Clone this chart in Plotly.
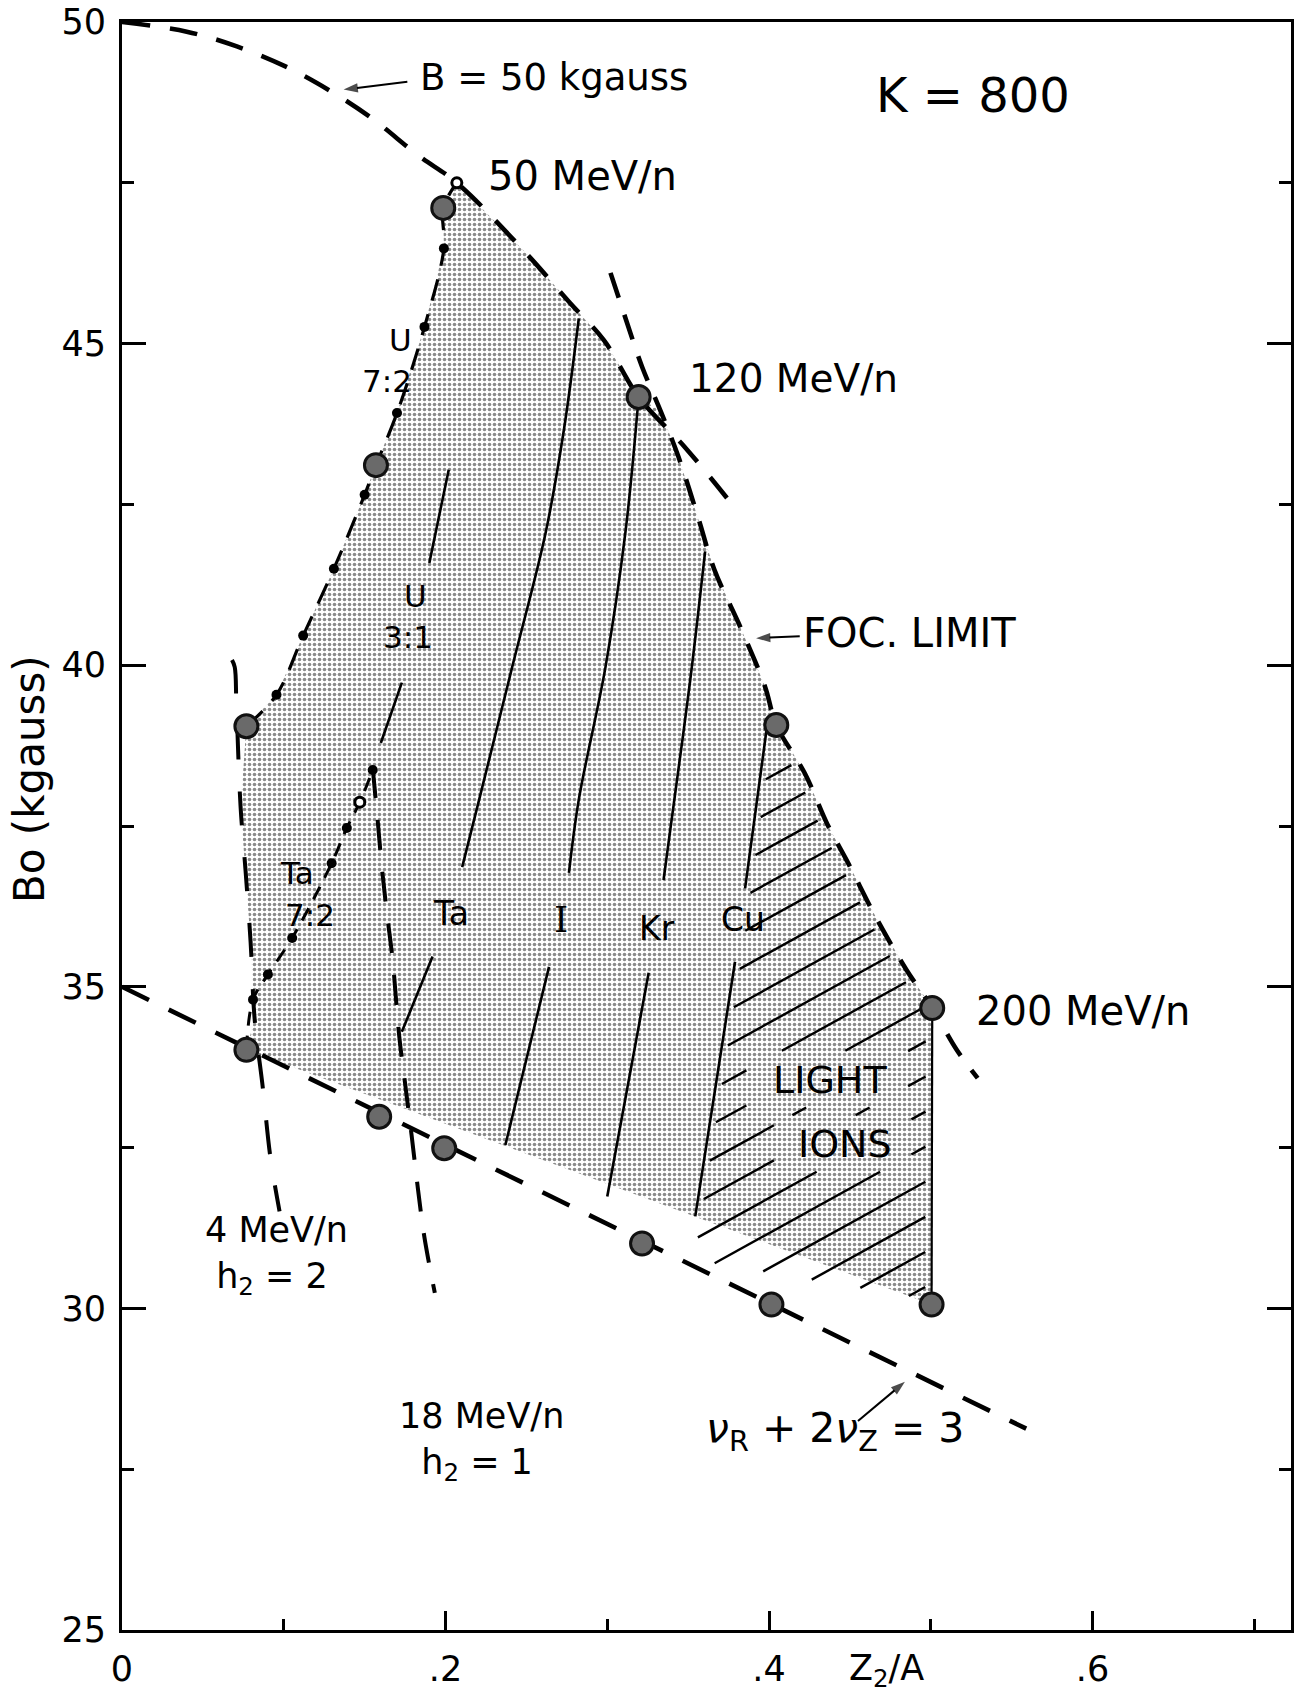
import numpy as np
import plotly.graph_objects as go

# ---------------- data ----------------
# B = 50 kgauss limit (dashed)
b50_x = [0.000, 0.040, 0.071, 0.101, 0.128, 0.153, 0.184, 0.207, 0.250, 0.277, 0.298, 0.3194, 0.348, 0.374]
b50_y = [50.00, 49.85, 49.62, 49.31, 48.94, 48.53, 47.91, 47.50, 46.40, 45.63, 45.05, 44.17, 43.39, 42.60]

# focusing limit (dashed)
foc_x = [0.302, 0.312, 0.3215, 0.333, 0.344, 0.356, 0.366, 0.383, 0.3975, 0.4045, 0.4221, 0.4362, 0.449, 0.4665, 0.4848, 0.5009, 0.516, 0.529]
foc_y = [46.10, 45.34, 44.64, 43.95, 43.24, 42.31, 41.50, 40.55, 39.67, 39.07, 38.32, 37.52, 36.92, 36.06, 35.27, 34.67, 34.02, 33.58]

# nu_R + 2 nu_Z = 3 resonance (dashed)
res_x = [0.000, 0.559]
res_y = [35.00, 28.13]

# 4 MeV/n, h2 = 2 (dashed)
e4_x = [0.0680, 0.0697, 0.0707, 0.0733, 0.0764, 0.0795, 0.0820, 0.0871, 0.0918, 0.0974]
e4_y = [40.08, 39.97, 39.41, 37.80, 36.80, 35.70, 34.50, 33.42, 32.34, 31.51]

# 18 MeV/n, h2 = 1 (dashed)
e18_x = [0.1550, 0.1580, 0.1610, 0.1640, 0.1673, 0.1714, 0.1750, 0.1790, 0.1830, 0.1870, 0.1934]
e18_y = [38.40, 37.60, 36.77, 36.10, 35.42, 34.23, 33.50, 32.70, 31.85, 31.10, 30.24]

# U 7:2 curve (dash + dots)
u72_x = [0.0769, 0.0955, 0.112, 0.131, 0.150, 0.157, 0.170, 0.187, 0.199, 0.1986, 0.207]
u72_y = [39.05, 39.54, 40.46, 41.50, 42.65, 43.11, 43.92, 45.26, 46.48, 47.11, 47.50]
u72_dot_x = [0.0955, 0.112, 0.131, 0.150, 0.170, 0.187, 0.199]
u72_dot_y = [39.54, 40.46, 41.50, 42.65, 43.92, 45.26, 46.48]

# Ta 7:2 curve (dash + dots)
ta72_x = [0.0769, 0.0810, 0.0902, 0.1052, 0.1296, 0.1390, 0.1470, 0.1550]
ta72_y = [34.02, 34.80, 35.19, 35.76, 36.92, 37.47, 37.87, 38.37]
ta72_dot_x = [0.0810, 0.0902, 0.1052, 0.1296, 0.1390, 0.1550]
ta72_dot_y = [34.80, 35.19, 35.76, 36.92, 37.47, 38.37]

# small ring markers
ring_x = [0.207, 0.147]
ring_y = [47.50, 37.87]

# large corner points
pt_x = [0.1986, 0.3194, 0.157, 0.0769, 0.4045, 0.5009, 0.0769, 0.159, 0.1992, 0.3215, 0.4015, 0.5005]
pt_y = [47.11, 44.17, 43.11, 39.05, 39.07, 34.67, 34.02, 32.98, 32.49, 31.01, 30.06, 30.06]

# ion lines (upper and lower pieces, split by the labels)
u31_up_x = [0.202, 0.190];  u31_up_y = [43.04, 41.59]
u31_lo_x = [0.173, 0.160];  u31_lo_y = [39.73, 38.79]
ta_up_x = [0.2824, 0.2732, 0.2619, 0.2412, 0.2208, 0.2103]
ta_up_y = [45.39, 43.66, 42.06, 39.97, 37.91, 36.86]
ta_lo_x = [0.192, 0.173];   ta_lo_y = [35.47, 34.30]
i_up_x = [0.3194, 0.3112, 0.2989, 0.2824, 0.2763]
i_up_y = [44.17, 42.06, 39.97, 37.91, 36.77]
i_lo_x = [0.264, 0.237];    i_lo_y = [35.31, 32.54]
kr_up_x = [0.3605, 0.3513, 0.3398, 0.3348]
kr_up_y = [41.77, 39.77, 37.60, 36.66]
kr_lo_x = [0.3256, 0.300];  kr_lo_y = [35.22, 31.74]
cu_up_x = [0.3985, 0.3852]; cu_up_y = [39.00, 36.53]
cu_lo_x = [0.379, 0.3544];  cu_lo_y = [35.39, 31.43]

# axis ticks
x_tickvals = [0, 0.2, 0.4, 0.6]
x_ticktext = ["0", ".2", ".4", ".6"]
x_minor = [0.1, 0.3, 0.5, 0.7]
y_tickvals = [25, 30, 35, 40, 45, 50]
y_minor = [27.5, 32.5, 37.5, 42.5, 47.5]

# ---------------- styling constants ----------------
FONT = "DejaVu Sans"
BLACK = "black"
HATCH_SLOPE = 13.9      # data units (kG per unit Z/A)
HATCH_STEP = 0.545      # spacing in kG along y

fig = go.Figure()

# ---------------- stippled allowed region ----------------
P = list(zip(pt_x, pt_y))
p1, p2, p3, p4, p5, p6, p7, p8, p9, p10, p11, p12 = P

poly = []
for x, y in zip(b50_x, b50_y):
    if 0.2065 <= x <= p2[0] + 1e-6:
        poly.append((x, y))
for x, y in zip(foc_x, foc_y):
    if 0.325 < x <= p6[0] + 1e-6:
        poly.append((x, y))
poly.append(p12)
poly.append(p7)
e4_pts = [(x, y) for x, y in zip(e4_x, e4_y) if p7[1] < y < p4[1]]
poly.extend(reversed(e4_pts))
poly.extend(zip(u72_x, u72_y))

fig.add_trace(go.Scatter(
    x=[p[0] for p in poly] + [poly[0][0]],
    y=[p[1] for p in poly] + [poly[0][1]],
    mode="lines", fill="toself", line=dict(width=0, color="rgba(0,0,0,0)"),
    fillcolor="white",
    fillpattern=dict(shape=".", size=5, solidity=0.42, fgcolor="#151515", bgcolor="white"),
    hoverinfo="skip", showlegend=False))

# ---------------- hatched light-ion region ----------------
def seg_intersect(a1, a2, b1, b2):
    (x1, y1), (x2, y2) = a1, a2
    (x3, y3), (x4, y4) = b1, b2
    d = (x1 - x2) * (y3 - y4) - (y1 - y2) * (x3 - x4)
    t = ((x1 - x3) * (y3 - y4) - (y1 - y3) * (x3 - x4)) / d
    return (x1 + t * (x2 - x1), y1 + t * (y2 - y1))

cu_bottom = seg_intersect((cu_lo_x[0], cu_lo_y[0]), (cu_lo_x[1], cu_lo_y[1]),
                          (res_x[0], res_y[0]), (res_x[1], res_y[1]))
hpoly = [p5]
for x, y in zip(foc_x, foc_y):
    if p5[0] + 1e-6 < x <= p6[0] + 1e-6:
        hpoly.append((x, y))
hpoly.append(p12)
hpoly.append(cu_bottom)
hpoly.extend(reversed(list(zip(cu_lo_x, cu_lo_y))))
hpoly.extend(reversed(list(zip(cu_up_x, cu_up_y))))

# text boxes the hatching stops at (LIGHT / IONS)
text_boxes = [(0.390, 0.482, 33.18, 33.95), (0.407, 0.484, 32.18, 32.95)]

def clip_line(m, c, px, py):
    xs = []
    n = len(px)
    for i in range(n):
        x1, y1 = px[i], py[i]
        x2, y2 = px[(i + 1) % n], py[(i + 1) % n]
        f1 = y1 - m * x1 - c
        f2 = y2 - m * x2 - c
        if (f1 > 0) != (f2 > 0):
            t = f1 / (f1 - f2)
            xs.append(x1 + t * (x2 - x1))
    xs.sort()
    return [(xs[k], xs[k + 1]) for k in range(0, len(xs) - 1, 2)]

def subtract_boxes(m, c, segs):
    for (bx0, bx1, by0, by1) in text_boxes:
        lo = max(bx0, (by0 - c) / m)
        hi = min(bx1, (by1 - c) / m)
        if lo >= hi:
            continue
        new = []
        for a, b in segs:
            if b <= lo or a >= hi:
                new.append((a, b))
            else:
                if a < lo:
                    new.append((a, lo))
                if b > hi:
                    new.append((hi, b))
        segs = new
    return segs

hx_poly = [p[0] for p in hpoly]
hy_poly = [p[1] for p in hpoly]
cs = [y - HATCH_SLOPE * x for x, y in hpoly]
hx, hy = [], []
for c in np.arange(min(cs) + HATCH_STEP * 0.6, max(cs), HATCH_STEP):
    segs = clip_line(HATCH_SLOPE, c, hx_poly, hy_poly)
    segs = subtract_boxes(HATCH_SLOPE, c, segs)
    for a, b in segs:
        a2, b2 = a + 0.004, b - 0.004
        if b2 - a2 < 0.004:
            continue
        hx += [a2, b2, None]
        hy += [HATCH_SLOPE * a2 + c, HATCH_SLOPE * b2 + c, None]

fig.add_trace(go.Scatter(x=hx, y=hy, mode="lines",
                         line=dict(color=BLACK, width=2.4),
                         hoverinfo="skip", showlegend=False))

# vertical edge at Z/A = 0.5 (thin solid)
fig.add_trace(go.Scatter(x=[p6[0], p12[0]], y=[p6[1], p12[1]], mode="lines",
                         line=dict(color=BLACK, width=2.2), hoverinfo="skip", showlegend=False))

# ---------------- ion lines ----------------
for lx, ly in [(u31_up_x, u31_up_y), (u31_lo_x, u31_lo_y),
               (ta_up_x, ta_up_y), (ta_lo_x, ta_lo_y),
               (i_up_x, i_up_y), (i_lo_x, i_lo_y),
               (kr_up_x, kr_up_y), (kr_lo_x, kr_lo_y),
               (cu_up_x, cu_up_y), (cu_lo_x, cu_lo_y)]:
    fig.add_trace(go.Scatter(x=lx, y=ly, mode="lines", line=dict(color=BLACK, width=2.6),
                             line_shape="spline", hoverinfo="skip", showlegend=False))

# ---------------- dashed limit curves ----------------
def dashed(x, y, dash, width=4.6):
    fig.add_trace(go.Scatter(x=x, y=y, mode="lines", line=dict(color=BLACK, width=width, dash=dash),
                             line_shape="spline", hoverinfo="skip", showlegend=False))

dashed(b50_x, b50_y, "28px,20px")
dashed(foc_x, foc_y, "26px,18px")
dashed(res_x, res_y, "30px,22px")
dashed(e4_x, e4_y, "34px,32px", 4.0)
dashed(e18_x, e18_y, "30px,22px", 4.0)
dashed(u72_x, u72_y, "22px,14px", 3.2)
dashed(ta72_x, ta72_y, "14px,10px", 3.0)

# dots on the charge-state curves
fig.add_trace(go.Scatter(x=u72_dot_x + ta72_dot_x, y=u72_dot_y + ta72_dot_y, mode="markers",
                         marker=dict(color=BLACK, size=10), hoverinfo="skip", showlegend=False))
fig.add_trace(go.Scatter(x=ring_x, y=ring_y, mode="markers",
                         marker=dict(color="white", size=10, line=dict(color=BLACK, width=3)),
                         hoverinfo="skip", showlegend=False))

# large corner points
fig.add_trace(go.Scatter(x=pt_x, y=pt_y, mode="markers",
                         marker=dict(color="#6a6a6a", size=23, line=dict(color="#111", width=3)),
                         hoverinfo="skip", showlegend=False))

# ---------------- arrows (line + arrow marker) ----------------
def arrow(x0, y0, x1, y1):
    fig.add_trace(go.Scatter(x=[x0, x1], y=[y0, y1], mode="lines+markers",
                             line=dict(color=BLACK, width=2),
                             marker=dict(symbol=["circle", "arrow"], size=[0, 15], color=BLACK,
                                         angleref="previous", line=dict(width=0)),
                             hoverinfo="skip", showlegend=False))

arrow(0.1764, 49.07, 0.1370, 48.95)   # B = 50 kgauss
arrow(0.4190, 40.45, 0.3920, 40.42)   # FOC. LIMIT
arrow(0.4550, 28.25, 0.4840, 28.86)   # resonance

# ---------------- text ----------------
def label(x, y, text, size=40, xanchor="left", yanchor="middle", family=FONT, **kw):
    fig.add_annotation(x=x, y=y, text=text, showarrow=False, xanchor=xanchor, yanchor=yanchor,
                       font=dict(family=family, size=size, color=BLACK), **kw)

label(0.183, 49.13, "B = 50 kgauss", 37)
label(0.526, 48.87, "K = 800", 48, xanchor="center")
label(0.225, 47.61, "50 MeV/n", 40)
label(0.349, 44.46, "120 MeV/n", 39)
label(0.527, 34.63, "200 MeV/n", 40)
label(0.420, 40.50, "FOC. LIMIT", 40)

label(0.1719, 45.05, "U", 31, xanchor="center")
label(0.1638, 44.42, "7:2", 31, xanchor="center")
label(0.1817, 41.08, "U", 31, xanchor="center")
label(0.1765, 40.44, "3:1", 31, xanchor="center")
label(0.108, 36.77, "Ta", 31, xanchor="center")
label(0.116, 36.12, "7:2", 31, xanchor="center")
label(0.2033, 36.14, "Ta", 33, xanchor="center")
label(0.2711, 36.04, "I", 36, xanchor="center", family="DejaVu Serif")
label(0.3307, 35.91, "Kr", 33, xanchor="center")
label(0.3842, 36.04, "Cu", 33, xanchor="center")
label(0.4376, 33.55, "LIGHT", 38, xanchor="center")
label(0.4468, 32.56, "IONS", 38, xanchor="center")

label(0.050, 30.83, "4 MeV/n<br> h<sub>2</sub> = 2", 35, align="left")
label(0.170, 27.93, "18 MeV/n<br>  h<sub>2</sub> = 1", 35, align="left")

label(0.360, 28.10, "<i>ν</i><sub>R</sub> + 2<i>ν</i><sub>Z</sub> = 3", 41)

# axis titles
fig.add_annotation(xref="paper", yref="paper", x=-0.079, y=0.529, text="Bo (kgauss)",
                   textangle=-90, showarrow=False, xanchor="center", yanchor="middle",
                   font=dict(family=FONT, size=42, color=BLACK))
fig.add_annotation(xref="paper", yref="paper", x=0.654, y=-0.010, text="Z<sub>2</sub>/A",
                   showarrow=False, xanchor="center", yanchor="top",
                   font=dict(family=FONT, size=35, color=BLACK))

# ---------------- layout ----------------
fig.update_layout(
    width=1296, height=1708,
    margin=dict(l=122, r=2, t=22, b=78),
    paper_bgcolor="white", plot_bgcolor="white",
    showlegend=False,
    xaxis=dict(range=[0, 0.7227], showgrid=False, zeroline=False,
               tickvals=x_tickvals, ticktext=x_ticktext,
               ticks="inside", ticklen=19, tickwidth=2.5, tickcolor=BLACK,
               minor=dict(tickvals=x_minor, ticks="inside", ticklen=11, tickwidth=2.5, tickcolor=BLACK),
               showline=True, linewidth=3, linecolor=BLACK, mirror=True,
               tickfont=dict(family=FONT, size=35, color=BLACK), ticklabelstandoff=6),
    yaxis=dict(range=[25, 50], showgrid=False, zeroline=False,
               tickvals=y_tickvals,
               ticks="inside", ticklen=24, tickwidth=2.5, tickcolor=BLACK,
               minor=dict(tickvals=y_minor, ticks="inside", ticklen=12, tickwidth=2.5, tickcolor=BLACK),
               showline=True, linewidth=3, linecolor=BLACK, mirror="allticks",
               tickfont=dict(family=FONT, size=35, color=BLACK), ticklabelstandoff=6),
)

fig.write_html("out.html")
